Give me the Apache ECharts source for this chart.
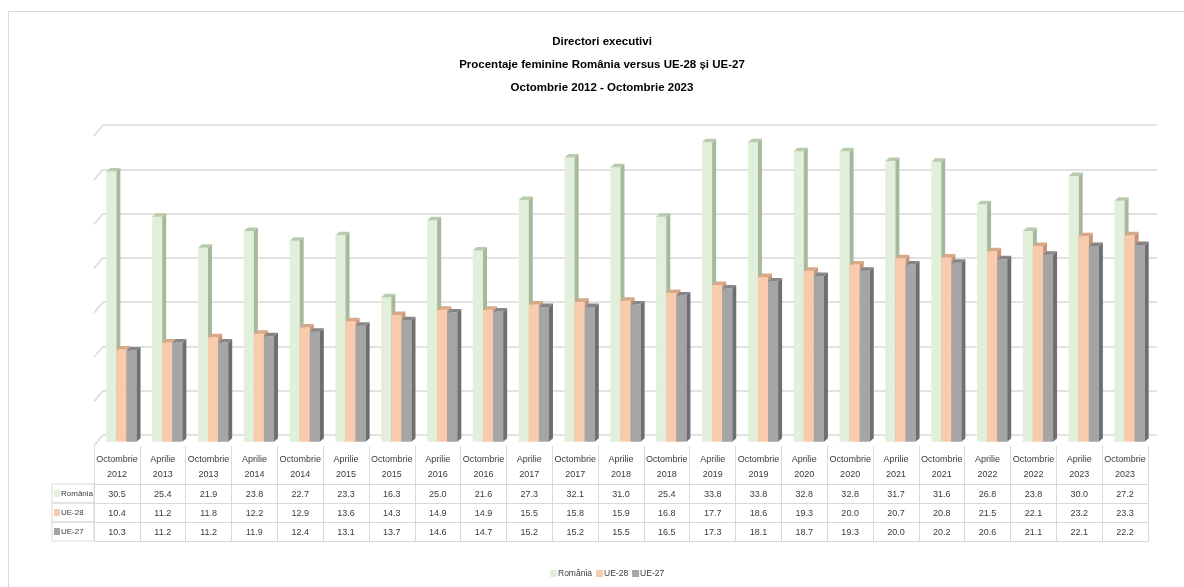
<!DOCTYPE html>
<html>
<head>
<meta charset="utf-8">
<script src="https://cdn.jsdelivr.net/npm/echarts@6/dist/echarts.min.js"></script>
<style>
  html, body { margin: 0; padding: 0; background: #fff; }
  #wrap { position: relative; width: 1184px; height: 587px; }
  #frame { position: absolute; left: 8px; top: 11px; width: 1200px; height: 600px;
           border-left: 1px solid #d9d9d9; border-top: 1px solid #d9d9d9; pointer-events: none; }
  #chart { position: absolute; left: 0; top: 0; width: 1184px; height: 587px; }
</style>
</head>
<body>
<div id="wrap"><div id="chart"></div><div id="frame"></div></div>
<script>
const categories = [
  'Octombrie\n2012','Aprilie\n2013','Octombrie\n2013','Aprilie\n2014','Octombrie\n2014','Aprilie\n2015',
  'Octombrie\n2015','Aprilie\n2016','Octombrie\n2016','Aprilie\n2017','Octombrie\n2017','Aprilie\n2018',
  'Octombrie\n2018','Aprilie\n2019','Octombrie\n2019','Aprilie\n2020','Octombrie\n2020','Aprilie\n2021',
  'Octombrie\n2021','Aprilie\n2022','Octombrie\n2022','Aprilie\n2023','Octombrie\n2023'
];
const romania = [30.5,25.4,21.9,23.8,22.7,23.3,16.3,25.0,21.6,27.3,32.1,31.0,25.4,33.8,33.8,32.8,32.8,31.7,31.6,26.8,23.8,30.0,27.2];
const ue28    = [10.4,11.2,11.8,12.2,12.9,13.6,14.3,14.9,14.9,15.5,15.8,15.9,16.8,17.7,18.6,19.3,20.0,20.7,20.8,21.5,22.1,23.2,23.3];
const ue27    = [10.3,11.2,11.2,11.9,12.4,13.1,13.7,14.6,14.7,15.2,15.2,15.5,16.5,17.3,18.1,18.7,19.3,20.0,20.2,20.6,21.1,22.1,22.2];
const seriesNames = ['România','UE-28','UE-27'];
const gridTicks = [0,5,10,15,20,25,30,35];

const FONT = "'Liberation Sans', Arial, sans-serif";
const TXT = '#3a3a3a';
const LINE = '#d9d9d9';
const palette = [
  { front: '#e2efda', side: '#a6b99c', top: '#b8cbae' },
  { front: '#f8cbad', side: '#c9957a', top: '#d9a888' },
  { front: '#a5a5a5', side: '#6f6f6f', top: '#868686' }
];
const allValues = [romania, ue28, ue27];

const measureCtx = document.createElement('canvas').getContext('2d');
function textWidth(s, size) {
  measureCtx.font = size + 'px ' + FONT;
  return measureCtx.measureText(s).width;
}

function bar3D(idx) {
  const c = palette[idx];
  return function (params, api) {
    const i = api.value(0), v = api.value(1);
    const base = api.coord([i, 0]);
    const top = api.coord([i, v]);
    const cw = api.size([1, 0])[0];
    const bw = cw * 0.22;
    const dx = 4, dy = 3.5, sx = 4.5, sy = -4;
    const x0 = base[0] - 1.5 * bw + idx * bw + sx;
    const yb = base[1] + sy, yt = top[1] + sy;
    return {
      type: 'group',
      children: [
        { type: 'rect', shape: { x: x0, y: yt, width: bw, height: yb - yt }, style: { fill: c.front } },
        { type: 'polygon', shape: { points: [[x0 + bw, yt], [x0 + bw + dx, yt - dy], [x0 + bw + dx, yb - dy], [x0 + bw, yb]] }, style: { fill: c.side } },
        { type: 'polygon', shape: { points: [[x0, yt], [x0 + dx, yt - dy], [x0 + bw + dx, yt - dy], [x0 + bw, yt]] }, style: { fill: c.top } }
      ]
    };
  };
}

const NAME_SIZE = 8;
const rowOffsets = [38.3, 57.3, 76.3];
function rowAxis(k) {
  const tw = textWidth(seriesNames[k], NAME_SIZE);
  const fill = Math.max(0.5, 33 - tw);
  return {
    type: 'category', gridIndex: 1, data: categories, position: 'bottom', offset: rowOffsets[k],
    axisLine: { show: true, lineStyle: { color: LINE, width: 1 } },
    axisTick: { show: false },
    axisLabel: {
      interval: 0, margin: 6, fontFamily: FONT, fontSize: 9, color: TXT,
      formatter: (val, index) => allValues[k][index].toFixed(1)
    },
    name: '{sq|}{t|' + seriesNames[k] + '}{f|}',
    nameLocation: 'start', nameGap: 0,
    nameTextStyle: {
      align: 'right', verticalAlign: 'top',
      borderColor: LINE, borderWidth: 1, padding: [3, 0, 3, 2],
      rich: {
        sq: { width: 6, height: 7, backgroundColor: palette[k].front, verticalAlign: 'middle' },
        t: { height: 13, lineHeight: 13, fontFamily: FONT, fontSize: NAME_SIZE, color: TXT, padding: [0, 0, 0, 1] },
        f: { width: fill, height: 13 }
      }
    }
  };
}

const option = {
  backgroundColor: '#fff',
  animation: false,
  title: {
    text: 'Directori executivi\nProcentaje feminine România versus UE-28 și UE-27\nOctombrie 2012 - Octombrie 2023',
    left: 602, top: 30, textAlign: 'center', padding: 0,
    textStyle: { fontFamily: FONT, fontSize: 11.5, fontWeight: 'bold', color: '#000', lineHeight: 23 }
  },
  legend: {
    bottom: 4, left: 545, itemWidth: 7, itemHeight: 7, itemGap: 4, icon: 'rect',
    data: seriesNames,
    textStyle: { fontFamily: FONT, fontSize: 8.5, color: TXT, padding: [0, 0, 0, -4] }
  },
  grid: [
    { left: 103, right: 27, top: 125, bottom: 152 },
    { left: 94, right: 36, top: 135.7, bottom: 141.3 }
  ],
  xAxis: [
    { type: 'value', gridIndex: 0, min: 0, max: 1, show: false },
    {
      type: 'category', gridIndex: 1, data: categories, position: 'bottom',
      axisLine: { show: false },
      axisTick: { show: true, alignWithLabel: false, length: 95.3, lineStyle: { color: LINE } },
      axisLabel: { interval: 0, margin: 6, fontFamily: FONT, fontSize: 9, color: TXT, lineHeight: 15 }
    },
    rowAxis(0), rowAxis(1), rowAxis(2),
    {
      type: 'category', gridIndex: 1, data: categories, position: 'bottom', offset: 95.3,
      axisLine: { show: true, lineStyle: { color: LINE } }, axisTick: { show: false }, axisLabel: { show: false }
    }
  ],
  yAxis: [
    { type: 'value', gridIndex: 0, min: 0, max: 35, interval: 5,
      axisLine: { show: false }, axisTick: { show: false }, axisLabel: { show: false },
      splitLine: { show: true, lineStyle: { color: LINE, width: 1.5 } } },
    { type: 'value', gridIndex: 1, min: 0, max: 35, interval: 5, show: false, splitLine: { show: false } }
  ],
  series: [
    {
      type: 'custom', name: 'wall', xAxisIndex: 0, yAxisIndex: 0, silent: true,
      data: gridTicks.map(t => [0, t]),
      renderItem: function (params, api) {
        const p = api.coord([0, api.value(1)]);
        const x = params.coordSys.x;
        return { type: 'line', shape: { x1: x, y1: p[1], x2: x - 9, y2: p[1] + 10.7 },
                 style: { stroke: LINE, lineWidth: 1.5 } };
      }
    }
  ].concat(seriesNames.map((n, k) => ({
    type: 'custom', name: n, xAxisIndex: 1, yAxisIndex: 1,
    itemStyle: { color: palette[k].front },
    encode: { x: 0, y: 1 },
    data: allValues[k].map((v, i) => [i, v]),
    renderItem: bar3D(k)
  })))
};

echarts.init(document.getElementById('chart')).setOption(option);
</script>
</body>
</html>
